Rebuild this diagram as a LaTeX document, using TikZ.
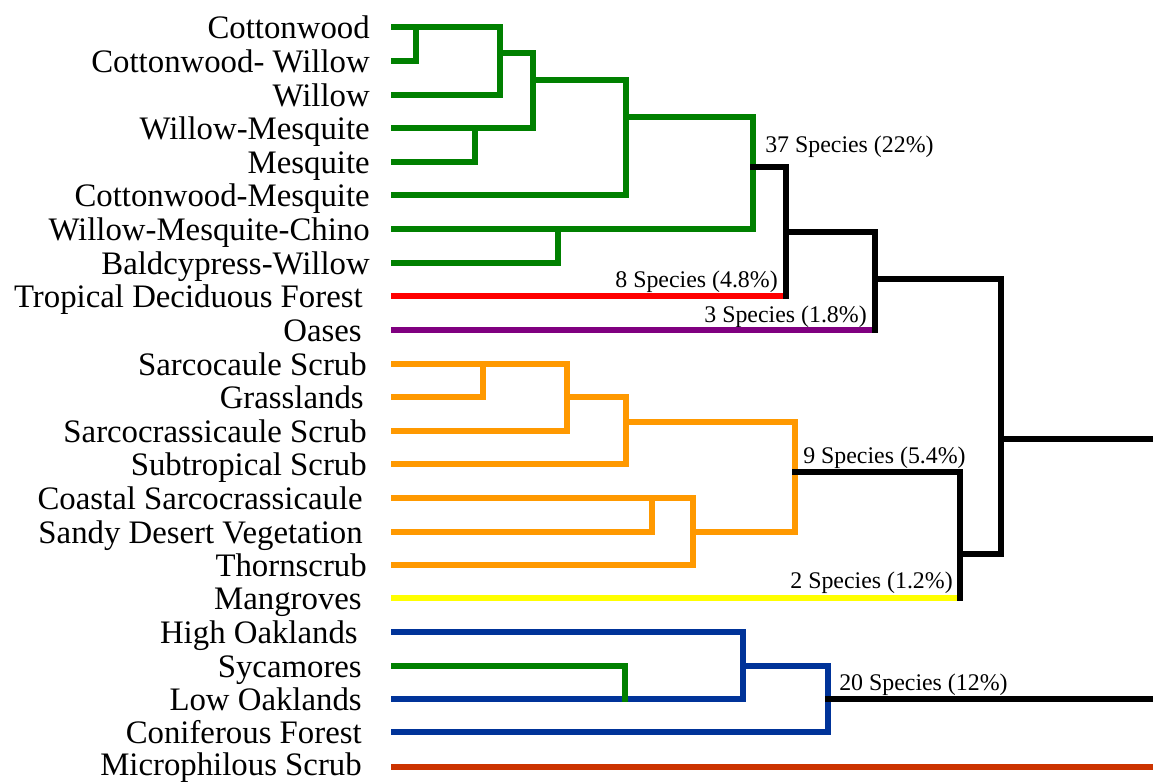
\documentclass[tikz,border=0pt]{standalone}
\usepackage{fontspec}
\setmainfont{Liberation Serif}
\definecolor{cgreen}{HTML}{008000}
\definecolor{cred}{HTML}{FF0000}
\definecolor{cpurple}{HTML}{800080}
\definecolor{corange}{HTML}{FF9900}
\definecolor{cyellow}{HTML}{FFFF00}
\definecolor{cblue}{HTML}{003399}
\definecolor{cbrown}{HTML}{CC3300}
\begin{document}
\begin{tikzpicture}[x=0.75pt,y=-0.75pt,
  lab/.style={inner sep=0pt, font=\fontsize{24.6}{28}\selectfont, anchor=base east},
  sp/.style={inner sep=0pt, font=\fontsize{17.9}{21}\selectfont},
  br/.style={line width=5.2pt, line cap=rect, line join=miter}]
\useasboundingbox (0,0) rectangle (1153,782);
% labels
\node[lab] (n1) at (370,38) {Cottonwood};
\node[lab] (n2) at (370,72) {Cottonwood- Willow};
\node[lab] (n3) at (370,106) {Willow};
\node[lab] (n4) at (370,139) {Willow-Mesquite};
\node[lab] (n5) at (370,173) {Mesquite};
\node[lab] (n6) at (370,206) {Cottonwood-Mesquite};
\node[lab] (n7) at (370,240) {Willow-Mesquite-Chino};
\node[lab] (n8) at (370,274) {Baldcypress-Willow};
\node[lab] (n9) at (363,307) {Tropical Deciduous Forest};
\node[lab] (n10) at (362,341) {Oases};
\node[lab] (n11) at (367,375) {Sarcocaule Scrub};
\node[lab] (n12) at (364,408) {Grasslands};
\node[lab] (n13) at (367,442) {Sarcocrassicaule Scrub};
\node[lab] (n14) at (367,475) {Subtropical Scrub};
\node[lab] (n15) at (363,509) {Coastal Sarcocrassicaule};
\node[lab] (n16) at (363,543) {Sandy Desert Vegetation};
\node[lab] (n17) at (367,576) {Thornscrub};
\node[lab] (n18) at (362,609) {Mangroves};
\node[lab] (n19) at (358,643) {High Oaklands};
\node[lab] (n20) at (362,677) {Sycamores};
\node[lab] (n21) at (362,710) {Low Oaklands};
\node[lab] (n22) at (362,743) {Coniferous Forest};
\node[lab] (n23) at (362,775) {Microphilous Scrub};
% leaf starts
\foreach \i/\y in {1/27,2/61,3/95,4/128,5/162,6/195,7/229,8/263,9/296,10/330,11/364,12/397,13/431,14/464,15/498,16/532,17/565,18/598,19/632,20/666,21/699,22/732,23/767}
  \coordinate (r\i) at (394.5,\y);
% species labels
\node[sp, anchor=base west] (s37) at (765,152) {37 Species (22\%)};
\node[sp, anchor=base east] (s8) at (778,287) {8 Species (4.8\%)};
\node[sp, anchor=base east] (s3) at (867,322) {3 Species (1.8\%)};
\node[sp, anchor=base west] (s9) at (803,463) {9 Species (5.4\%)};
\node[sp, anchor=base east] (s2) at (953,588) {2 Species (1.2\%)};
\node[sp, anchor=base west] (s20) at (839,690) {20 Species (12\%)};
% green cluster
\draw[br, cgreen] (r1) -- (500,27) -- (500,95) -- (r3);
\draw[br, cgreen] (r2) -- (416,61) -- (416,27);
\draw[br, cgreen] (500,53) -- (533,53) -- (533,128) -- (r4);
\draw[br, cgreen] (r5) -- (475,162) -- (475,128);
\draw[br, cgreen] (533,80) -- (626,80) -- (626,195) -- (r6);
\draw[br, cgreen] (626,117) -- (753,117) -- (753,229) -- (r7);
\draw[br, cgreen] (r8) -- (558,263) -- (558,229);
% red / purple
\draw[br, cred] (r9) -- (784,296);
\draw[br, cpurple] (r10) -- (873,330);
% orange cluster
\draw[br, corange] (r11) -- (567,364) -- (567,431) -- (r13);
\draw[br, corange] (r12) -- (483,397) -- (483,364);
\draw[br, corange] (567,397) -- (626,397) -- (626,464) -- (r14);
\draw[br, corange] (626,422) -- (795,422) -- (795,532) -- (693,532);
\draw[br, corange] (r15) -- (693,498) -- (693,565) -- (r17);
\draw[br, corange] (r16) -- (652,532) -- (652,498);
% yellow
\draw[br, cyellow] (r18) -- (958,598);
% blue cluster
\draw[br, cblue] (r19) -- (743,632) -- (743,699) -- (r21);
\draw[br, cblue] (743,666) -- (828,666) -- (828,732) -- (r22);
\draw[br, cgreen] (r20) -- (625,666) -- (625,699);
% brown
\draw[br, cbrown] (r23) -- (1160,767);
% black
\draw[br, black] (753,167) -- (786,167) -- (786,296);
\draw[br, black] (786,232) -- (875,232) -- (875,330);
\draw[br, black] (875,279) -- (1001,279) -- (1001,554) -- (960,554);
\draw[br, black] (1001,439) -- (1160,439);
\draw[br, black] (795,472) -- (960,472) -- (960,598);
\draw[br, black] (828,699) -- (1160,699);
\end{tikzpicture}
\end{document}
